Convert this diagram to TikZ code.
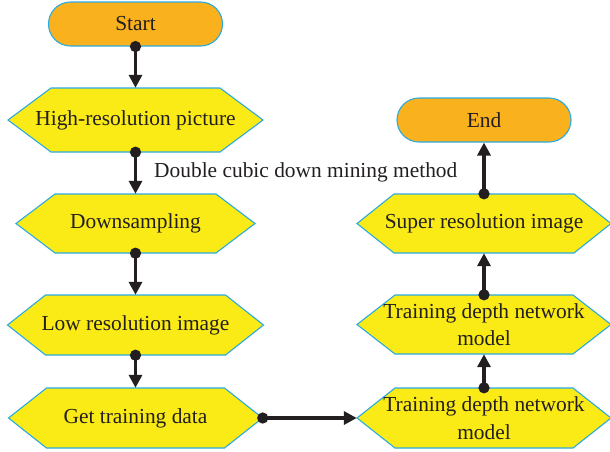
\documentclass[tikz,border=0pt]{standalone}
\usepackage{fontspec}
\setmainfont{Liberation Serif}
\usetikzlibrary{calc,arrows.meta}
\definecolor{stadfill}{RGB}{249,177,29}
\definecolor{hexyellow}{RGB}{250,235,22}
\definecolor{edgeblue}{RGB}{41,170,225}
\definecolor{ink}{RGB}{35,31,32}
\tikzset{
  txt/.style={font=\fontsize{21.4}{27.5}\selectfont, text=ink, align=center, inner sep=0pt},
  stad/.style={txt, draw=edgeblue, line width=1.1pt, fill=stadfill, rounded corners=22pt,
               minimum width=174pt, minimum height=44pt},
  hexshape/.style={draw=edgeblue, line width=1.1pt, fill=hexyellow},
  conn/.style={draw=ink, line width=3.6pt, {Circle[length=11pt]}-{Triangle[length=13pt,width=13pt]},
               shorten <=-5.5pt},
}
% name, center, half width, half height, slope, text
\newcommand\hexnode[6]{%
  \path[hexshape] ($(#2)+({-#3},0)$) -- ($(#2)+({-#3+#5},{-#4})$) -- ($(#2)+({#3-#5},{-#4})$)
    -- ($(#2)+({#3},0)$) -- ($(#2)+({#3-#5},{#4})$) -- ($(#2)+({-#3+#5},{#4})$) -- cycle;
  \node[txt, minimum width={2*#3}, minimum height={2*#4}] (#1) at (#2) {#6};}
\begin{document}
\begin{tikzpicture}[x=1pt,y=-1pt]
\useasboundingbox (0,0) rectangle (610,451);
\node[stad] (start) at (135.5,24) {Start};
\hexnode{hr}{135.5,120}{127.5}{32}{43}{High-resolution picture}
\hexnode{ds}{135.5,223.5}{119.5}{29.5}{39}{Downsampling}
\hexnode{lr}{135.5,325}{128}{30}{38}{Low resolution image}
\hexnode{gt}{135.5,418}{127}{30}{38}{Get training data}
\hexnode{tb}{484,418}{127}{30}{38}{Training depth network\\model}
\hexnode{tu}{484,324.5}{127}{29.5}{38}{Training depth network\\model}
\hexnode{sr}{484,223.5}{127}{29.5}{37}{Super resolution image}
\node[stad] (end) at (484,120) {End};
\node[txt, anchor=west] (lbl) at (154,172) {Double cubic down mining method};
\draw[conn] (start.south) -- (hr.north);
\draw[conn] (hr.south) -- (ds.north);
\draw[conn] (ds.south) -- (lr.north);
\draw[conn] (lr.south) -- (gt.north);
\draw[conn] (gt.east) -- (tb.west);
\draw[conn] (tb.north) -- (tu.south);
\draw[conn] (tu.north) -- (sr.south);
\draw[conn] (sr.north) -- (end.south);
\end{tikzpicture}
\end{document}
